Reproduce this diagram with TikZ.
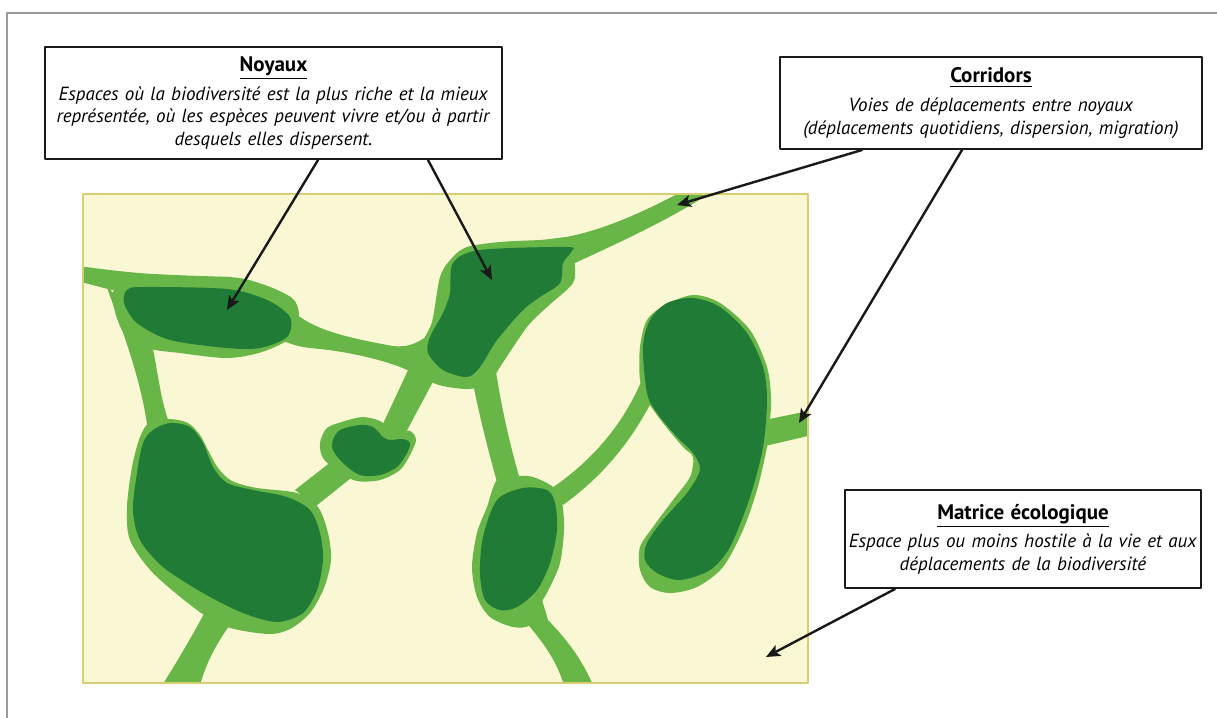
\documentclass[tikz,border=0pt]{standalone}
\usepackage{fontspec}
\setmainfont{PT Sans}
\usetikzlibrary{arrows.meta}
\definecolor{fondmatrice}{RGB}{249,247,212}
\definecolor{bordmatrice}{RGB}{214,206,112}
\definecolor{vertclair}{RGB}{104,181,72}
\definecolor{vertfonce}{RGB}{31,123,53}
\newcommand{\titreboite}[1]{{\fontsize{10.5}{12}\selectfont\underline{\textbf{#1}}}}
\begin{document}
\begin{tikzpicture}[line cap=round,line join=round,>={Stealth[length=7pt,width=6pt,inset=1.6pt]},x=0.5pt,y=-0.5pt,
	boite/.style={draw=black!90,line width=1pt,fill=white,inner sep=0pt,align=center,font=\fontsize{9.5}{11.3}\selectfont},
	fleche/.style={line width=1.2pt,black!90},
	halo/.style={fill=vertclair},
	coeur/.style={fill=vertfonce}]
	\useasboundingbox (0,0) rectangle (1217,718);
	%cadre
	\draw[black!40,line width=1pt] (7,718)--(7,13)--(1217,13);
	%matrice
	\fill[fondmatrice] (83,194) rectangle (808,683);
	\begin{scope}
		\clip (83,194) rectangle (808,683);
		%corridors
		\fill[halo] (70,265) .. controls (140,274) .. (230,277) -- (230,300) -- (120,292) .. controls (100,287) .. (70,279) -- cycle;
		\fill[halo] (106,285) .. controls (130,350) and (143,390) .. (148,432) -- (170,425) .. controls (160,400) and (158,370) .. (150,335) -- cycle;
		\fill[halo] (286,305) .. controls (305,325) and (330,335) .. (393,346) .. controls (410,348) and (420,342) .. (435,330) -- (440,370) -- (415,374) .. controls (395,362) and (350,352) .. (320,349) .. controls (300,347) .. (280,340) -- cycle;
		\fill[halo] (410,366) -- (436,376) -- (404,436) -- (382,426) -- cycle;
		\fill[halo] (336,458) -- (351,478) -- (316,506) -- (295,490) -- cycle;
		\fill[halo] (205,612) .. controls (190,640) and (175,665) .. (158,692) -- (198,692) .. controls (205,665) and (215,645) .. (232,622) -- cycle;
		\fill[halo] (560,238) .. controls (600,232) and (645,212) .. (700,182) -- (712,192) .. controls (665,222) and (620,242) .. (575,263) -- cycle;
		\fill[halo] (472,378) .. controls (478,410) and (488,450) .. (497,482) -- (519,476) .. controls (510,445) and (502,410) .. (496,372) -- cycle;
		\fill[halo] (526,622) .. controls (545,645) and (558,662) .. (566,692) -- (596,692) .. controls (585,665) and (572,645) .. (548,620) -- (542,600) -- cycle;
		\fill[halo] (552,488) .. controls (590,462) and (625,425) .. (645,372) -- (655,395) .. controls (630,445) and (600,478) .. (563,505) -- cycle;
		\fill[halo] (765,420) -- (808,411) -- (820,409) -- (820,434) -- (808,436) -- (765,446) -- cycle;
		%halos des noyaux
		\fill[halo] plot[smooth cycle] coordinates {(113,292) (140,281) (227,277) (262,284) (292,298) (299,315) (292,337) (262,352) (227,358) (180,353) (148,348) (122,330)};
		\fill[halo] plot[smooth cycle] coordinates {(440,277) (452,258) (467,247) (500,242) (540,240) (578,238) (575,262) (573,283) (547,307) (527,327) (500,367) (490,382) (467,389) (430,381) (420,350) (432,322)};
		\fill[halo] plot[smooth cycle] coordinates {(140,437) (150,422) (170,419) (188,423) (200,435) (208,450) (218,468) (232,481) (257,488) (297,493) (318,507) (328,533) (331,560) (324,588) (310,613) (290,629) (268,634) (227,627) (197,610) (153,573) (130,540) (127,507) (132,467)};
		\fill[halo] plot[smooth cycle] coordinates {(320,443) (327,428) (345,421) (363,417) (380,421) (392,430) (410,431) (416,440) (410,455) (400,470) (380,480) (357,481) (338,472) (323,458)};
		\fill[halo] plot[smooth cycle] coordinates {(497,480) (517,476) (533,477) (553,487) (562,503) (564,530) (560,563) (550,587) (540,605) (530,625) (513,627) (490,617) (477,597) (472,567) (477,533) (487,507)};
		\fill[halo] plot[smooth cycle] coordinates {(647,320) (665,305) (693,295) (720,303) (750,330) (767,367) (771,397) (770,420) (767,447) (757,490) (743,530) (723,567) (697,587) (670,593) (650,587) (640,570) (640,547) (653,527) (673,500) (690,477) (693,457) (683,447) (663,423) (647,400) (640,380) (640,347)};
		%noyaux
		\fill[coeur] plot[smooth cycle] coordinates {(127,290) (143,287) (227,289) (267,300) (290,317) (287,337) (260,348) (227,348) (170,340) (137,323) (124,303)};
		\fill[coeur] plot[smooth cycle] coordinates {(453,263) (480,250) (567,247) (571,252) (563,263) (560,283) (540,297) (523,310) (497,340) (480,367) (467,377) (443,370) (428,353) (430,337) (443,313) (450,293)};
		\fill[coeur] plot[smooth cycle] coordinates {(153,430) (170,423) (190,427) (203,443) (213,467) (227,483) (253,490) (287,497) (310,510) (320,533) (323,560) (317,590) (303,613) (277,622) (243,613) (203,593) (163,567) (140,540) (133,510) (137,473) (143,443)};
		\fill[coeur] plot[smooth cycle] coordinates {(333,440) (340,430) (360,425) (373,427) (383,437) (390,440) (403,439) (410,443) (407,453) (397,467) (380,475) (360,475) (343,463) (333,450)};
		\fill[coeur] plot[smooth cycle] coordinates {(497,500) (523,488) (547,490) (555,503) (557,530) (550,563) (537,590) (517,607) (500,610) (485,600) (480,573) (483,537)};
		\fill[coeur] plot[smooth cycle] coordinates {(650,320) (667,303) (693,298) (720,307) (747,333) (763,367) (767,400) (763,447) (750,497) (730,547) (710,570) (680,580) (657,573) (645,560) (647,543) (663,520) (687,493) (700,470) (693,453) (677,437) (657,413) (647,393) (643,347)};
	\end{scope}
	\draw[bordmatrice,line width=0.8pt] (83,194) rectangle (808,683);
	%legendes
	\node[boite,text width=228.5pt,minimum height=56pt] (noyaux) at (273.5,103) {\titreboite{Noyaux}\\[3pt]
		\textit{Espaces où la biodiversité est la plus riche et la mieux}\\
		\textit{représentée, où les espèces peuvent vivre et/ou à partir}\\
		\textit{desquels elles dispersent.}};
	\node[boite,text width=211pt,minimum height=46pt] (corridors) at (991,103) {\titreboite{Corridors}\\[3pt]
		\textit{Voies de déplacements entre noyaux}\\
		\textit{(déplacements quotidiens, dispersion, migration)}};
	\node[boite,text width=178pt,minimum height=49pt] (matrice) at (1023,539) {\titreboite{Matrice écologique}\\[3pt]
		\textit{Espace plus ou moins hostile à la vie et aux}\\
		\textit{déplacements de la biodiversité}};
	%fleches
	\coordinate (cible noyau1) at (227,310);
	\coordinate (cible noyau2) at (492,280);
	\coordinate (cible corridor1) at (677,205);
	\coordinate (cible corridor2) at (799,423);
	\coordinate (cible matrice) at (766,657);
	\draw[->,fleche] ([xshift=22.25pt]noyaux.south) -- (cible noyau1);
	\draw[->,fleche] ([xshift=77.25pt]noyaux.south) -- (cible noyau2);
	\draw[->,fleche] ([xshift=-64.5pt]corridors.south) -- (cible corridor1);
	\draw[->,fleche] ([xshift=-14.5pt]corridors.south) -- (cible corridor2);
	\draw[->,fleche] ([xshift=-64pt]matrice.south) -- (cible matrice);
\end{tikzpicture}
\end{document}
